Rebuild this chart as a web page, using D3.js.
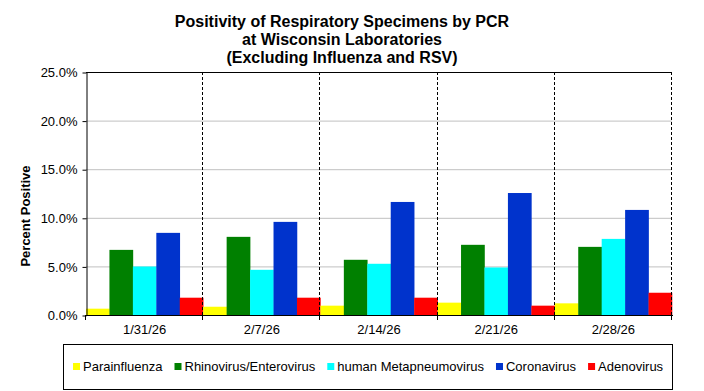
<!DOCTYPE html>
<html lang="en">
<head>
<meta charset="utf-8">
<title>Positivity of Respiratory Specimens by PCR</title>
<script src="https://d3js.org/d3.v7.min.js"></script>
<style>
  body { margin: 0; background: white; font-family: Arial, "Liberation Sans", sans-serif; }
  svg { display: block; }
</style>
</head>
<body>
<script>
// data
var weeks = ["1/31/26", "2/7/26", "2/14/26", "2/21/26", "2/28/26"];
var seriesNames = ["Parainfluenza", "Rhinovirus/Enterovirus", "human Metapneumovirus", "Coronavirus", "Adenovirus"];
var seriesColors = ["#ffff00", "#008000", "#00ffff", "#0033cc", "#ff0000"];
var parainfluenza = [0.65, 0.85, 0.96, 1.27, 1.20];
var rhinovirus = [6.70, 8.04, 5.68, 7.22, 7.01];
var metapneumovirus = [4.99, 4.65, 5.27, 4.89, 7.83];
var coronavirus = [8.45, 9.58, 11.63, 12.55, 10.81];
var adenovirus = [1.78, 1.78, 1.78, 0.96, 2.29];
var yTicks = [0, 5, 10, 15, 20, 25];
var titleLines = ["Positivity of Respiratory Specimens by PCR", "at Wisconsin Laboratories", "(Excluding Influenza and RSV)"];

var seriesValues = [parainfluenza, rhinovirus, metapneumovirus, coronavirus, adenovirus];

var w = 704, h = 391;
var plot = { left: 86, right: 672, top: 72, bottom: 315 };

var svg = d3.select("body").append("svg")
    .attr("width", w)
    .attr("height", h);

var x = d3.scaleBand()
    .domain(weeks)
    .range([plot.left, plot.right])
    .padding(0);

var xInner = d3.scaleBand()
    .domain(seriesNames)
    .range([0, x.bandwidth()])
    .padding(0);

var y = d3.scaleLinear()
    .domain([0, 25])
    .range([plot.bottom, plot.top]);

// gridlines
svg.append("g")
    .selectAll("line")
    .data(yTicks.filter(function(d) { return d > 0 && d < 25; }))
    .enter().append("line")
    .attr("x1", plot.left)
    .attr("x2", plot.right)
    .attr("y1", function(d) { return y(d) + 0.5; })
    .attr("y2", function(d) { return y(d) + 0.5; })
    .attr("stroke", "#c0c0c0")
    .attr("stroke-width", 1);

// bars
var groups = svg.append("g")
    .selectAll("g")
    .data(weeks)
    .enter().append("g")
    .attr("transform", function(d) { return "translate(" + x(d) + ",0)"; });

groups.selectAll("rect")
    .data(function(d, i) {
        return seriesNames.map(function(s, j) {
            return { name: s, value: seriesValues[j][i], color: seriesColors[j] };
        });
    })
    .enter().append("rect")
    .attr("x", function(d) { return xInner(d.name); })
    .attr("width", xInner.bandwidth() + 0.3)
    .attr("y", function(d) { return y(d.value); })
    .attr("height", function(d) { return y(0) - y(d.value); })
    .attr("fill", function(d) { return d.color; });

// dashed separators between weeks and at right edge
svg.append("g")
    .selectAll("line")
    .data(weeks)
    .enter().append("line")
    .attr("x1", function(d) { return Math.round(x(d) + x.bandwidth()) - 0.5; })
    .attr("x2", function(d) { return Math.round(x(d) + x.bandwidth()) - 0.5; })
    .attr("y1", plot.top)
    .attr("y2", plot.bottom)
    .attr("stroke", "#000")
    .attr("stroke-width", 1)
    .attr("stroke-dasharray", "3,2");

// top border
svg.append("line")
    .attr("x1", plot.left).attr("x2", plot.right)
    .attr("y1", plot.top + 0.5).attr("y2", plot.top + 0.5)
    .attr("stroke", "#000");

// y axis
var yAxis = d3.axisLeft(y)
    .tickValues(yTicks)
    .tickSize(4)
    .tickSizeOuter(0)
    .tickFormat(function(d) { return d.toFixed(1) + "%"; });

var gy = svg.append("g")
    .attr("transform", "translate(" + (plot.left + 0.5) + ",0.5)")
    .call(yAxis);
gy.selectAll("text")
    .attr("x", -9)
    .style("font-family", "Arial, 'Liberation Sans', sans-serif")
    .style("font-size", "13px")
    .attr("fill", "#000");
gy.selectAll("line, path").attr("stroke", "#000");

// x axis: ticks at category boundaries
svg.append("line")
    .attr("x1", plot.left).attr("x2", plot.right + 1)
    .attr("y1", plot.bottom + 0.5).attr("y2", plot.bottom + 0.5)
    .attr("stroke", "#000");

svg.append("g")
    .selectAll("line")
    .data([plot.left].concat(weeks.map(function(d) { return x(d) + x.bandwidth(); })))
    .enter().append("line")
    .attr("x1", function(d) { return Math.round(d) - 0.5; })
    .attr("x2", function(d) { return Math.round(d) - 0.5; })
    .attr("y1", plot.bottom)
    .attr("y2", plot.bottom + 5)
    .attr("stroke", "#000");

svg.append("g")
    .selectAll("text")
    .data(weeks)
    .enter().append("text")
    .attr("x", function(d) { return x(d) + x.bandwidth() / 2; })
    .attr("y", 334)
    .attr("text-anchor", "middle")
    .style("font-size", "13px")
    .text(function(d) { return d; });

// y label
svg.append("text")
    .attr("transform", "translate(30,216) rotate(-90)")
    .attr("text-anchor", "middle")
    .style("font-size", "13px")
    .style("font-weight", "bold")
    .text("Percent Positive");

// title
svg.append("g")
    .selectAll("text")
    .data(titleLines)
    .enter().append("text")
    .attr("x", 342)
    .attr("y", function(d, i) { return 27 + i * 18; })
    .attr("text-anchor", "middle")
    .style("font-size", "16px")
    .style("font-weight", "bold")
    .text(function(d) { return d; });

// legend
svg.append("rect")
    .attr("x", 63.5).attr("y", 344.5)
    .attr("width", 609).attr("height", 45)
    .attr("fill", "none")
    .attr("stroke", "#000");

var legend = svg.append("g");
var lx = 73;
seriesNames.forEach(function(name, i) {
    legend.append("rect")
        .attr("x", lx).attr("y", 363)
        .attr("width", 7).attr("height", 7)
        .attr("fill", seriesColors[i]);
    var t = legend.append("text")
        .attr("x", lx + 10)
        .attr("y", 371)
        .style("font-size", "13px")
        .text(name);
    lx += 10 + t.node().getComputedTextLength() + 12;
});
</script>
</body>
</html>
